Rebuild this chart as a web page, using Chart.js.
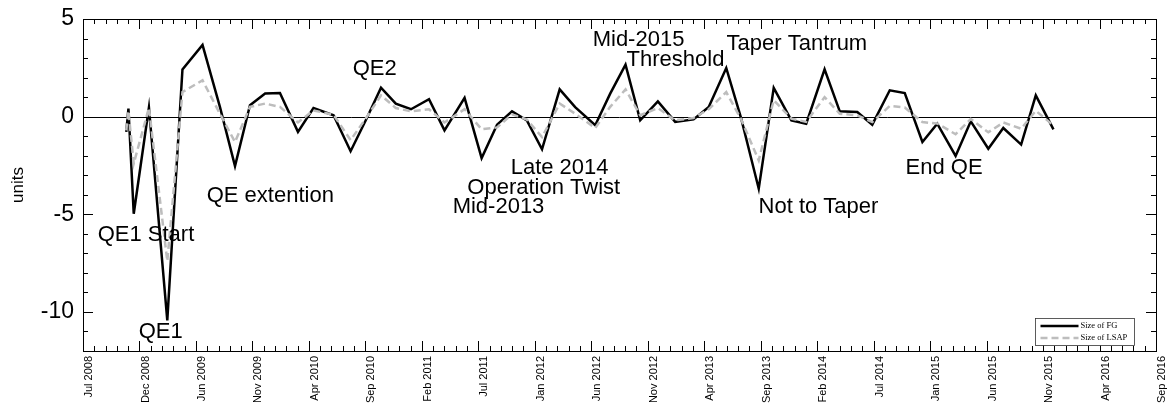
<!DOCTYPE html>
<html>
<head>
<meta charset="utf-8">
<script src="https://cdn.jsdelivr.net/npm/chart.js@4/dist/chart.umd.min.js"></script>
<style>
    body { margin: 0; background: #fff; }
    canvas { display: block; }
</style>
</head>
<body>
<canvas id="fgChart" width="1171" height="410"></canvas>
<script>
// FOMC meetings / announcement dates
const eventDates = [
    '2008-11-25', '2008-12-01', '2008-12-16', '2009-01-28', '2009-03-18', '2009-04-29',
    '2009-06-24', '2009-08-12', '2009-09-23', '2009-11-04', '2009-12-16', '2010-01-27',
    '2010-03-16', '2010-04-28', '2010-06-23', '2010-08-10', '2010-09-21', '2010-11-03',
    '2010-12-14', '2011-01-26', '2011-03-15', '2011-04-27', '2011-06-22', '2011-08-09',
    '2011-09-21', '2011-11-02', '2011-12-13', '2012-01-25', '2012-03-13', '2012-04-25',
    '2012-06-20', '2012-08-01', '2012-09-13', '2012-10-24', '2012-12-12', '2013-01-30',
    '2013-03-20', '2013-05-01', '2013-06-19', '2013-07-31', '2013-09-18', '2013-10-30',
    '2013-12-18', '2014-01-29', '2014-03-19', '2014-04-30', '2014-06-18', '2014-07-30',
    '2014-09-17', '2014-10-29', '2014-12-17', '2015-01-28', '2015-03-18', '2015-04-29',
    '2015-06-17', '2015-07-29', '2015-09-17', '2015-10-28', '2015-12-16'
];

const sizeFG = [
    -0.78, 0.41, -4.97, 0.47, -10.43, 2.42,
    3.67, 0.5, -2.53, 0.58, 1.18, 1.21,
    -0.78, 0.44, 0.07, -1.77, -0.2, 1.48,
    0.67, 0.38, 0.89, -0.7, 0.96, -2.12,
    -0.41, 0.27, -0.19, -1.67, 1.4, 0.49,
    -0.44, 1.18, 2.66, -0.19, 0.78, -0.27,
    -0.14, 0.49, 2.49, -0.1, -3.69, 1.47,
    -0.19, -0.36, 2.42, 0.27, 0.24, -0.41,
    1.35, 1.21, -1.3, -0.36, -2.01, -0.24,
    -1.64, -0.58, -1.43, 1.09, -0.65
];

const sizeLSAP = [
    -0.7, 0.3, -2.4, 0.45, -7.4, 1.26,
    1.86, 0.15, -1.3, 0.5, 0.67, 0.5,
    -0.3, 0.32, 0.1, -1.2, -0.1, 1.09,
    0.44, 0.27, 0.38, -0.3, 0.38, -0.65,
    -0.55, 0.12, -0.15, -1.05, 0.67, 0.15,
    -0.58, 0.5, 1.4, 0.07, 0.44, -0.19,
    -0.07, 0.38, 1.26, -0.15, -2.24, 0.84,
    -0.1, -0.27, 1.0, 0.15, 0.07, -0.28,
    0.55, 0.47, -0.28, -0.35, -0.9, -0.12,
    -0.8, -0.3, -0.62, 0.3, -0.45
];

const xTickLabels = [
    'Jul 2008', 'Dec 2008', 'Jun 2009', 'Nov 2009', 'Apr 2010', 'Sep 2010', 'Feb 2011',
    'Jul 2011', 'Jan 2012', 'Jun 2012', 'Nov 2012', 'Apr 2013', 'Sep 2013', 'Feb 2014',
    'Jul 2014', 'Jan 2015', 'Jun 2015', 'Nov 2015', 'Apr 2016', 'Sep 2016'
];
const yTickValues = [-10, -5, 0, 5];

// text labels, x in months since Jul 2008, y in units
const noteText = ['QE1 Start', 'QE1', 'QE extention', 'QE2', 'Late 2014', 'Operation Twist',
    'Mid-2013', 'Mid-2015', 'Threshold', 'Taper Tantrum', 'Not to Taper', 'End QE'];
const noteX = [2.19, 5.94, 12.15, 25.48, 39.91, 35.95, 34.61, 47.4, 50.5, 59.63, 62.55, 75.98];
const noteY = [-6.06, -11.02, -4.06, 2.44, -2.63, -3.65, -4.62, 3.93, 2.9, 3.72, -4.62, -2.63];

// months since 2008-07-01
function toMonths(s) {
    const [y, m, d] = s.split('-').map(Number);
    const days = new Date(Date.UTC(y, m, 0)).getUTCDate();
    return (y - 2008) * 12 + (m - 7) + (d - 1) / days;
}

const xMin = 0.85;
const xMax = xMin + 98;
const xTickPos = xTickLabels.map((_, i) => xMin + 98 / 19 * i);

const fgPoints = eventDates.map((d, i) => ({x: toMonths(d), y: sizeFG[i]}));
const lsapPoints = eventDates.map((d, i) => ({x: toMonths(d), y: sizeLSAP[i]}));

// box, inward ticks, zero line
const framePlugin = {
    id: 'frame',
    beforeDatasetsDraw(chart) {
        const {ctx, chartArea: a, scales: {x, y}} = chart;
        ctx.save();
        ctx.strokeStyle = '#000';
        ctx.lineWidth = 1;
        const y0 = Math.round(y.getPixelForValue(0)) + 0.5;
        ctx.beginPath();
        ctx.moveTo(a.left, y0);
        ctx.lineTo(a.right, y0);
        ctx.stroke();
        ctx.restore();
    },
    afterDatasetsDraw(chart) {
        const {ctx, chartArea: a, scales: {x, y}} = chart;
        ctx.save();
        ctx.strokeStyle = '#000';
        ctx.lineWidth = 1;
        ctx.beginPath();
        // x ticks
        for (let i = 0; i < xTickPos.length; i++) {
            for (let k = 0; k < 5; k++) {
                if (i === xTickPos.length - 1 && k > 0) break;
                const v = xTickPos[i] + k * 98 / 95;
                const px = Math.round(x.getPixelForValue(v)) + 0.5;
                const len = k === 0 ? 10 : 5;
                ctx.moveTo(px, a.bottom);
                ctx.lineTo(px, a.bottom - len);
                ctx.moveTo(px, a.top);
                ctx.lineTo(px, a.top + len);
            }
        }
        // y ticks
        for (let v = -12; v <= 5; v++) {
            const py = Math.round(y.getPixelForValue(v)) + 0.5;
            const len = v % 5 === 0 ? 10 : 5;
            ctx.moveTo(a.left, py);
            ctx.lineTo(a.left + len, py);
            ctx.moveTo(a.right, py);
            ctx.lineTo(a.right - len, py);
        }
        ctx.stroke();
        ctx.strokeRect(Math.round(a.left) + 0.5, Math.round(a.top) + 0.5,
            Math.round(a.right - a.left), Math.round(a.bottom - a.top));

        // event labels
        ctx.fillStyle = '#000';
        ctx.font = '22px "Liberation Sans", Arial, sans-serif';
        ctx.textAlign = 'left';
        ctx.textBaseline = 'middle';
        noteText.forEach((t, i) => {
            ctx.fillText(t, x.getPixelForValue(noteX[i]), y.getPixelForValue(noteY[i]));
        });

        // legend box, bottom right
        const bw = 99, bh = 27;
        const bx = Math.round(a.right) - 22 - bw + 0.5;
        const by = Math.round(a.bottom) - 6 - bh + 0.5;
        ctx.fillStyle = '#fff';
        ctx.fillRect(bx, by, bw, bh);
        ctx.strokeStyle = '#333';
        ctx.lineWidth = 0.8;
        ctx.strokeRect(bx, by, bw, bh);
        ctx.font = '8.5px "Liberation Serif", "Times New Roman", serif';
        chart.data.datasets.forEach((ds, i) => {
            const ly = by + 7.5 + i * 12;
            ctx.strokeStyle = ds.borderColor;
            ctx.lineWidth = 2.5;
            ctx.setLineDash(ds.borderDash || []);
            ctx.beginPath();
            ctx.moveTo(bx + 5, ly);
            ctx.lineTo(bx + 43, ly);
            ctx.stroke();
            ctx.setLineDash([]);
            ctx.fillStyle = '#000';
            ctx.fillText(ds.label, bx + 45, ly);
        });
        ctx.restore();
    }
};

const chart = new Chart(document.getElementById('fgChart'), {
    type: 'line',
    data: {
        datasets: [{
            label: 'Size of FG',
            data: fgPoints,
            borderColor: '#000000',
            borderWidth: 2.5,
            pointRadius: 0,
            order: 2
        }, {
            label: 'Size of LSAP',
            data: lsapPoints,
            borderColor: '#bdbdbd',
            borderDash: [7, 4],
            borderWidth: 2.5,
            pointRadius: 0,
            order: 1
        }]
    },
    options: {
        responsive: false,
        animation: false,
        devicePixelRatio: 1,
        layout: {padding: {top: 19, right: 15, left: 0, bottom: 0}},
        plugins: {
            legend: {display: false},
            tooltip: {enabled: false}
        },
        scales: {
            x: {
                type: 'linear',
                min: xMin,
                max: xMax,
                afterBuildTicks: s => { s.ticks = xTickPos.map(v => ({value: v})); },
                afterFit: s => {
                    s.height = 59;
                    s.paddingLeft = 0;
                    s.paddingRight = 0;
                },
                grid: {display: false, drawTicks: false},
                border: {display: false},
                ticks: {
                    autoSkip: false,
                    maxRotation: 90,
                    minRotation: 90,
                    padding: 5,
                    labelOffset: 6,
                    color: '#000',
                    font: {family: '"Liberation Sans", Arial, sans-serif', size: 11},
                    callback: (v, i) => xTickLabels[i]
                }
            },
            y: {
                min: -12,
                max: 5,
                afterBuildTicks: s => { s.ticks = yTickValues.map(v => ({value: v})); },
                afterFit: s => {
                    s.width = 83;
                    s.paddingTop = 0;
                    s.paddingBottom = 0;
                },
                grid: {display: false, drawTicks: false},
                border: {display: false},
                title: {
                    display: true,
                    text: 'units',
                    color: '#000',
                    padding: {top: 8, bottom: 0},
                    font: {family: '"Liberation Sans", Arial, sans-serif', size: 17}
                },
                ticks: {
                    padding: 9,
                    color: '#000',
                    font: {family: '"Liberation Sans", Arial, sans-serif', size: 23}
                }
            }
        }
    },
    plugins: [framePlugin]
});
</script>
</body>
</html>
